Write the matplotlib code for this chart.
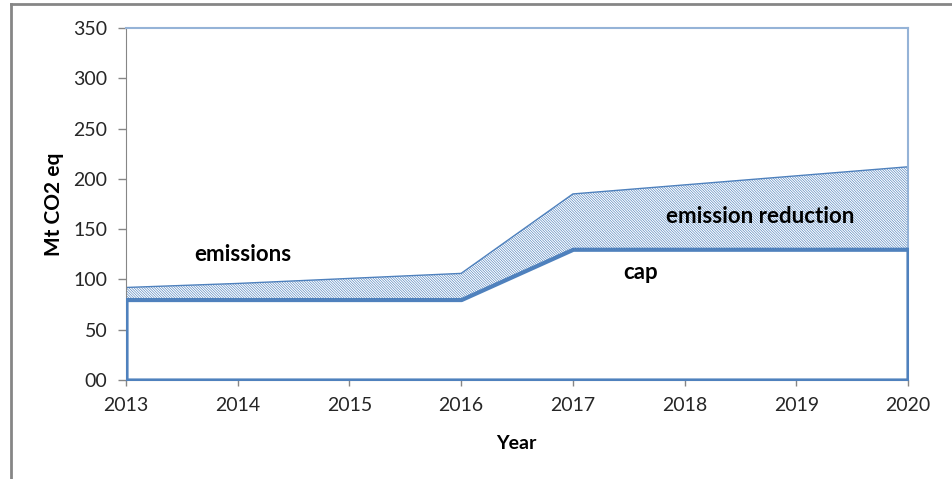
import matplotlib.pyplot as plt
from matplotlib.lines import Line2D

# Emissions vs. cap, Mt CO2 eq
years = [2013, 2014, 2015, 2016, 2017, 2018, 2019, 2020]
emissions = [92, 96, 101, 106, 185, 194, 203, 212]
cap = [80, 80, 80, 80, 130, 130, 130, 130]
yticks = [0, 50, 100, 150, 200, 250, 300, 350]

blue = '#4F81BD'
light_blue = '#95B3D7'
gray = '#868686'

plt.rcParams['font.family'] = ['Lato', 'DejaVu Sans']
plt.rcParams['hatch.linewidth'] = 0.45

fig = plt.figure(figsize=(9.53, 4.79), dpi=100)
ax = fig.add_axes([126 / 953, 99 / 479, 782 / 953, 352 / 479])

# hatched band between cap and emissions
ax.fill_between(years, cap, emissions, facecolor='white', edgecolor=blue,
                hatch='\\' * 13, linewidth=1.0, zorder=2)
# cap as white area with a thick outline
ax.fill_between(years, 0, cap, facecolor='white', edgecolor=blue,
                linewidth=3.0, zorder=3)

ax.set_xlim(2013, 2020)
ax.set_ylim(0, 350)
ax.set_xticks(years)
ax.set_yticks(yticks)
ax.set_yticklabels([f'{v:02d}' for v in yticks])

for side in ['left', 'bottom']:
    ax.spines[side].set_color(gray)
for side in ['top', 'right']:
    ax.spines[side].set_color(light_blue)
    ax.spines[side].set_linewidth(1.5)

ax.tick_params(axis='y', length=5.5, width=1, color=gray, pad=8,
               labelsize=14, labelcolor='#262626')
ax.tick_params(axis='x', length=4.5, width=1, color=gray, pad=8,
               labelsize=14, labelcolor='#262626')

ax.set_ylabel('Mt CO2 eq', fontsize=15, fontweight='bold', va='center')
ax.yaxis.set_label_coords(-0.092, 0.5)
ax.set_xlabel('Year', fontsize=14, fontweight='bold', va='center')
ax.xaxis.set_label_coords(0.499, -0.179)

ax.text(2014.05, 125, 'emissions', fontsize=16, fontweight='bold',
        ha='center', va='center', zorder=5)
ax.text(2018.68, 163, 'emission reduction', fontsize=16, fontweight='bold',
        ha='center', va='center', zorder=5)
ax.text(2017.61, 107, 'cap', fontsize=16, fontweight='bold',
        ha='center', va='center', zorder=5)

# outer chart frame (top and left edges)
fig.add_artist(Line2D([11 / 953, 1], [1 - 4 / 479, 1 - 4 / 479],
                      transform=fig.transFigure, color=gray, linewidth=2))
fig.add_artist(Line2D([11 / 953, 11 / 953], [0, 1 - 4 / 479],
                      transform=fig.transFigure, color=gray, linewidth=2))

fig.savefig('out.png', dpi=100)
